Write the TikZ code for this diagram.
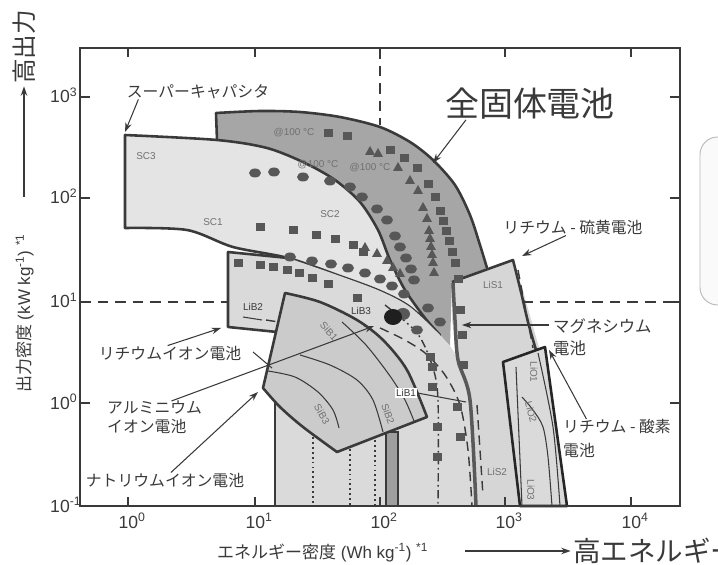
\documentclass[tikz,border=0pt]{standalone}
\usepackage{fontspec}
\setmainfont{Liberation Sans}
\newfontfamily\jp{Noto Sans CJK JP}
\usetikzlibrary{arrows.meta}

\definecolor{inkgray}{HTML}{3A3A3A}
\definecolor{solidgray}{HTML}{A6A6A6}
\definecolor{capgray}{HTML}{E4E4E4}
\definecolor{ligray}{HTML}{DADADA}
\definecolor{nagray}{HTML}{CBCBCB}
\definecolor{sulfgray}{HTML}{D6D6D6}
\definecolor{markgray}{HTML}{575757}
\definecolor{taggray}{HTML}{707070}

\tikzset{
  region/.style={draw=inkgray, line width=2.2pt, line join=round},
  frame/.style={draw=inkgray, line width=1.8pt},
  guide/.style={draw=inkgray, line width=1.4pt, dash pattern=on 9pt off 6pt},
  subline/.style={draw=inkgray, line width=0.9pt},
  dotline/.style={draw=inkgray, line width=1.2pt, dash pattern=on 1.6pt off 2.6pt},
  dashline/.style={draw=inkgray, line width=1.2pt, dash pattern=on 8pt off 5pt},
  dashdotline/.style={draw=inkgray, line width=1.2pt, dash pattern=on 7pt off 3pt on 1.5pt off 3pt},
  pointer/.style={draw=inkgray, line width=0.9pt, -{Stealth[length=8pt,width=5.5pt]}},
  jplabel/.style={text=inkgray, font=\jp\fontsize{13.5}{15.5}\selectfont, inner sep=0pt},
  ticklabel/.style={text=inkgray, font=\fontsize{15}{17}\selectfont, inner sep=0pt},
  tag/.style={text=taggray, font=\fontsize{8.5}{9}\selectfont, inner sep=1pt},
}

\begin{document}
\begin{tikzpicture}[x=0.03cm,y=-0.03cm]
\useasboundingbox (0,0) rectangle (718,565);

% side panel, cut by the page edge
\draw[draw=gray!55, fill=gray!4, line width=0.8pt, rounded corners=15pt] (700,137) rectangle (790,305);

% all-solid-state region
\fill[solidgray] plot[smooth] coordinates {(216,113) (260,111) (300,112) (340,117) (380,127) (410,142) (433,160) (455,185) (470,215) (480,245) (487,268)}
  -- (452,282) -- (450,346) -- (440,335)
  -- plot[smooth] coordinates {(440,335) (425,318) (405,290) (390,260) (378,230) (360,202) (335,180) (305,163) (267,148) (217,140)} -- cycle;
\draw[region] (217,140) -- (216,113)
  -- plot[smooth] coordinates {(216,113) (260,111) (300,112) (340,117) (380,127) (410,142) (433,160) (455,185) (470,215) (480,245) (487,268)};

% supercapacitor region
\filldraw[region, fill=capgray] plot[smooth] coordinates {(125,135) (217,140) (267,148) (305,163) (335,180) (360,202) (378,230) (390,260) (405,290) (425,318) (440,335)}
  -- plot[smooth] coordinates {(440,335) (410,307) (380,291) (340,276) (288,258) (233,247) (187,230) (125,228)} -- cycle;

% lithium-ion region
\fill[ligray] (228,327) -- (228,252) -- (288,258)
  -- plot[smooth] coordinates {(288,258) (340,276) (380,291) (410,307) (440,335)}
  -- (450,346) -- plot[smooth] coordinates {(450,346) (458,360) (470,400) (476,506)}
  -- (275,506) -- (275,392) -- (277,332) -- cycle;
\draw[region] (277,332) -- (228,327) -- (228,252) -- (288,258);
\draw[region] (275,392) -- (275,506);

% lithium-sulfur region
\fill[sulfgray] (452,282) -- (513,260)
  -- plot[smooth] coordinates {(513,260) (524,295) (534,330) (546,375) (556,440) (563,506)}
  -- (476,506) -- plot[smooth] coordinates {(476,506) (470,400) (458,360) (452,320)} -- cycle;
\draw[region] (452,282) -- (513,260)
  -- plot[smooth] coordinates {(513,260) (521,292) (528,322) (536,350)};
\draw[draw=gray!70!black, line width=3pt] plot[smooth] coordinates {(453,283) (455,320) (458,360) (470,400) (476,506)};

% lines in the lithium-ion area
\foreach \x/\y in {313/437,350/449,375/440}
  \draw[dotline] (\x,\y) -- (\x,506);
\filldraw[fill=gray!75, draw=inkgray, line width=1.5pt] (386,432) rectangle (398,506);
\draw[dashline] plot[smooth] coordinates {(380,328) (403,339) (425,353) (445,375) (460,405) (468,450) (472,506)};
\draw[dashdotline] plot[smooth] coordinates {(385,305) (417,333) (432,365) (438,400) (438,506)};
\draw[dashline] plot[smooth] coordinates {(477,405) (480,450) (483,496)};
\draw[dashline] (518,270) -- (533,348);
\draw[subline] (243,317) -- (262,320);
\draw[dashline] (266,320) -- (285,323);

% sodium-ion region
\filldraw[region, fill=nagray] (285,293)
  -- plot[smooth] coordinates {(285,293) (320,302) (357,320) (383,340) (407,370) (427,417)}
  -- (337,452) -- plot[smooth] coordinates {(337,452) (303,427) (280,407) (263,388)} -- cycle;
\draw[subline] plot[smooth] coordinates {(342,322) (366,345) (390,376) (405,400) (414,421)};
\draw[subline] plot[smooth] coordinates {(300,355) (330,365) (357,380) (373,400) (383,432)};
\draw[subline] plot[smooth] coordinates {(268,371) (295,377) (318,392) (333,410) (339,428)};

% lithium-oxygen region
\filldraw[region, draw=black!85, fill=ligray] (503,362) -- (545,347) -- (567,506) -- (520,506) -- cycle;
\draw[subline] (516,367) -- (522,506);
\draw[subline] plot[smooth] coordinates {(522,397) (533,410) (543,427) (548,457) (552,506)};
\draw[subline] plot[smooth] coordinates {(538,353) (553,427) (560,506)};

% markers
\foreach \x/\y in {328/133,347/136,390/150,404/158,417/168,428/184,435/197,440/211,443/221,446/231,449/241,452/252,455/263,458/279,
                   260/227,293/230,316/235,335/239,353/245,363/252,
                   238/263,260/265,273/267,287/270,299/273,312/278,328/284,357/298,
                   460/310,462/335,430/357,432/367,463/365,432/387,457/407,437/427,460/437,437/457}
  \fill[markgray] (\x-4.5,\y-4) rectangle (\x+4.5,\y+4);
\foreach \x/\y in {370/151,378/153,398/167,410/180,418/190,423/207,427/218,429/230,430/238,431/246,432/254,433/262,434/272,
                   365/247,377/253,387/260,393/267,400/273}
  \fill[markgray] (\x,\y-5) -- (\x+5,\y+4) -- (\x-5,\y+4) -- cycle;
\foreach \x/\y in {255/173,274/172,303/177,330/181,350/187,362/197,377/209,387/220,395/236,400/247,406/258,411/269,414/280,
                   290/257,312/261,331/264,348/268,365/273,380/279,392/286,404/294,417/330,428/308,440/322}
  \fill[markgray] (\x,\y) ellipse [x radius=6, y radius=4.5];
\fill[markgray] (403,314) ellipse [x radius=7, y radius=6];
\fill[black!88] (393,317) ellipse [x radius=9, y radius=8];

% tags
\node[tag] (tSC3) at (146,156) {SC3};
\node[tag] (tSC1) at (213,222) {SC1};
\node[tag] (tSC2) at (330,214) {SC2};
\node[tag] (tHot1) at (294,133) {@100 °C};
\node[tag] (tHot2) at (318,165) {@100 °C};
\node[tag] (tHot3) at (370,168) {@100 °C};
\node[tag] (tLiS1) at (493,285) {LiS1};
\node[tag] (tLiS2) at (497,472) {LiS2};
\node[tag, text=inkgray] (tLiB2) at (253,307) {LiB2};
\node[tag, text=inkgray] (tLiB3) at (361,311) {LiB3};
\node[tag, text=inkgray, fill=white] (tLiB1) at (406,393) {LiB1};
\draw[subline] (tLiB1.east) -- (466,402);
\node[tag, rotate=-48] (tSiB1) at (329,331) {SiB1};
\node[tag, rotate=-70] (tSiB2) at (388,414) {SiB2};
\node[tag, rotate=-60] (tSiB3) at (322,414) {SiB3};
\node[tag, rotate=-90] (tLiO1) at (534,372) {LiO1};
\node[tag, rotate=-75] (tLiO2) at (531,412) {LiO2};
\node[tag, rotate=-90] (tLiO3) at (531,490) {LiO3};

% guides, frame and ticks
\draw[guide] (80,302) -- (228,302);
\draw[guide] (522,302) -- (680,302);
\draw[guide] (380,48) -- (380,125);
\draw[frame] (80,48) rectangle (680,506);
\foreach \tx in {128,255,505,631} {
  \draw[frame] (\tx,506) -- (\tx,497);
  \draw[frame] (\tx,48) -- (\tx,57);
}
\draw[frame] (380,506) -- (380,497);
\foreach \ty in {97,198,302,403} {
  \draw[frame] (80,\ty) -- (90,\ty);
  \draw[frame] (680,\ty) -- (670,\ty);
}
\foreach \tx/\e in {128/0,255/1,380/2,505/3,631/4}
  \node[ticklabel, anchor=base] (xt\e) at (\tx+4,528) {10\textsuperscript{\e}};
\foreach \ty/\e in {97/3,198/2,302/1,403/0}
  \node[ticklabel, anchor=base west] (yt\e) at (50,\ty+6) {10\textsuperscript{\e}};
\node[ticklabel, anchor=base west] (ytm) at (50,512) {10\textsuperscript{-1}};

% axis titles
\node[text=inkgray, font=\fontsize{14.5}{16}\selectfont, inner sep=0pt, anchor=base west] (xlab) at (217,558)
  {{\jp エネルギー密度} (Wh kg\textsuperscript{-1}) \textsuperscript{*1}};
\node[text=inkgray, font=\jp\fontsize{23.5}{26}\selectfont, inner sep=0pt, anchor=west] (xhigh) at (573,551) {高エネルギー};
\coordinate (xarrow) at (465,551);
\draw[pointer] (xarrow) -- ([xshift=-2pt]xhigh.west);
\node[text=inkgray, font=\fontsize{14.5}{16}\selectfont, inner sep=0pt, rotate=90, anchor=base west] (ylab) at (30,393)
  {{\jp 出力密度} (kW kg\textsuperscript{-1}) \textsuperscript{*1}};
\node[text=inkgray, font=\jp\fontsize{21}{23}\selectfont, inner sep=0pt, rotate=90, anchor=west] (yhigh) at (24,84) {高出力};
\coordinate (yarrow) at (24,197);
\draw[pointer] (yarrow) -- ([yshift=-2pt]yhigh.west);

% battery labels
\node[jplabel] (lblSC) at (198,92) {スーパーキャパシタ};
\coordinate (scTip) at (125,132);
\draw[pointer] ([xshift=10pt]lblSC.south west) -- (scTip);

\node[jplabel, font=\jp\fontsize{29}{31}\selectfont] (lblSolid) at (530,104) {全固体電池};
\coordinate (solidTip) at (433,163);
\draw[pointer] ([xshift=18pt]lblSolid.south west) -- (solidTip);

\node[jplabel] (lblLiS) at (573,228) {リチウム - 硫黄電池};
\coordinate (lisTip) at (522,256);
\draw[pointer] ([xshift=-6pt]lblLiS.south) -- (lisTip);

\node[jplabel, font=\jp\fontsize{14}{19.5}\selectfont, align=left, anchor=north west] (lblMg) at (553,318) {マグネシウム\\電池};
\coordinate (mgTip) at (462,325);
\draw[pointer] (549,325) -- (mgTip);

\node[jplabel, font=\jp\fontsize{13.5}{20.5}\selectfont, align=left, anchor=north west] (lblLiO) at (563,419) {リチウム - 酸素\\電池};
\coordinate (lioTip) at (549,350);
\draw[pointer] ([xshift=20pt]lblLiO.north west) -- (lioTip);

\node[jplabel] (lblLiB) at (170,353) {リチウムイオン電池};
\coordinate (libTip) at (221,328);
\draw[pointer] ([xshift=-2pt]lblLiB.north) -- (libTip);
\draw[subline] (253,352) -- (272,368);

\node[jplabel, align=left, anchor=north west] (lblAl) at (107,401) {アルミニウム\\イオン電池};
\coordinate (alTip) at (374,326);
\draw[pointer] ([xshift=55pt]lblAl.north west) -- (alTip);

\node[jplabel] (lblNa) at (165,480) {ナトリウムイオン電池};
\coordinate (naTip) at (258,392);
\draw[pointer] ([xshift=5pt]lblNa.north) -- (naTip);
\end{tikzpicture}
\end{document}
